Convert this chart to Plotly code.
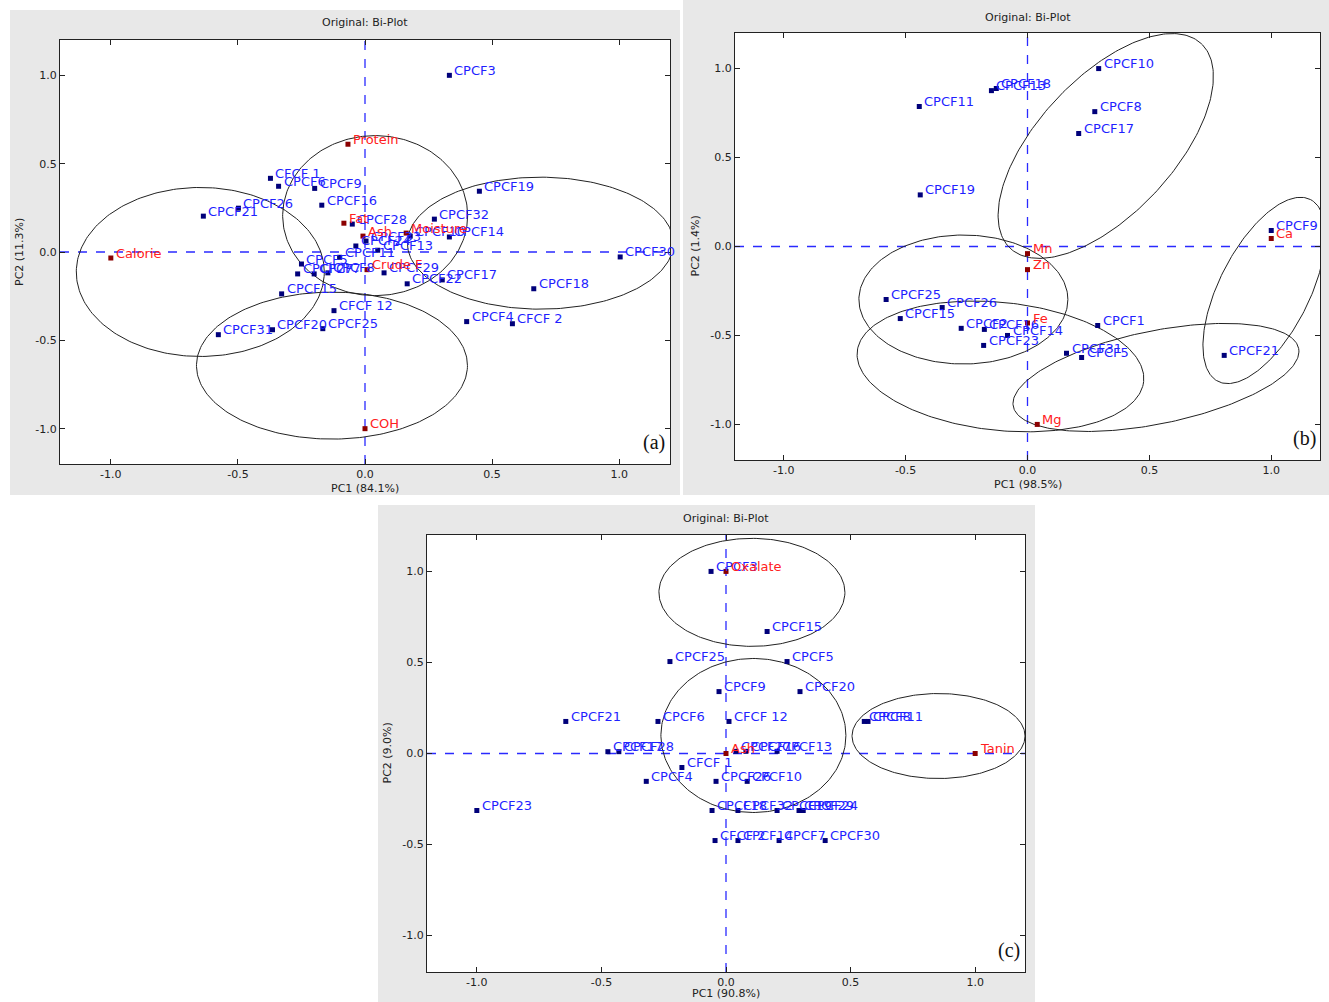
import numpy as np
import plotly.graph_objects as go

W, H = 1329, 1002

# ---------------- Panel (a) data ----------------
a_obs_names = ["CPCF3", "CFCF 1", "CPCF6", "CPCF9", "CPCF16", "CPCF26", "CPCF21", "CPCF28",
               "CPCF24", "CPCF33", "CPCF10", "CPCF14", "CPCF32", "CPCF19", "CPCF13", "CPCF11",
               "CPCF5", "CPCF27", "CPCF7", "CPCF8", "CPCF29", "CPCF22", "CPCF17", "CPCF18",
               "CPCF30", "CPCF4", "CFCF 2", "CPCF15", "CFCF 12", "CPCF31", "CPCF20", "CPCF25"]
a_obs_x = [0.332, -0.372, -0.34, -0.198, -0.17, -0.498, -0.636, -0.05,
           -0.036, 0.004, 0.178, 0.332, 0.273, 0.45, 0.05, -0.1,
           -0.25, -0.265, -0.2, -0.146, 0.075, 0.166, 0.304, 0.664,
           1.004, 0.4, 0.58, -0.328, -0.122, -0.577, -0.364, -0.166]
a_obs_y = [1.0, 0.417, 0.372, 0.36, 0.265, 0.248, 0.203, 0.158,
           0.034, 0.062, 0.09, 0.085, 0.186, 0.344, 0.01, -0.03,
           -0.068, -0.124, -0.124, -0.118, -0.118, -0.18, -0.158, -0.208,
           -0.028, -0.394, -0.406, -0.237, -0.332, -0.468, -0.44, -0.434]
a_var_names = ["Protein", "Fat", "Calorie", "Ash", "Moisture", "Crude F", "COH"]
a_var_x = [-0.067, -0.083, -1.0, -0.008, 0.162, 0.008, 0.0]
a_var_y = [0.61, 0.163, -0.034, 0.09, 0.107, -0.1, -1.0]
a_ellipses = [(-0.648, -0.113, 124, 84.5, 0), (0.04, 0.206, 92.5, 80, 0),
              (0.69, 0.05, 133, 66, 0), (-0.13, -0.643, 135.5, 73.5, 0)]

# ---------------- Panel (b) data ----------------
b_obs_names = ["CPCF10", "CPCF8", "CPCF17", "CPCF11", "CPCF19", "CPCF13", "CPCF18", "CPCF9",
               "CPCF1", "CPCF31", "CPCF5", "CPCF21", "CPCF25", "CPCF26", "CPCF15", "CPCF2",
               "CPCF16", "CPCF14", "CPCF23"]
b_obs_x = [0.292, 0.276, 0.21, -0.444, -0.44, -0.148, -0.128, 1.0,
           0.288, 0.16, 0.222, 0.807, -0.58, -0.35, -0.522, -0.272,
           -0.177, -0.082, -0.18]
b_obs_y = [1.0, 0.758, 0.635, 0.787, 0.29, 0.876, 0.888, 0.09,
           -0.444, -0.6, -0.624, -0.612, -0.298, -0.343, -0.405, -0.46,
           -0.466, -0.5, -0.556]
b_var_names = ["Ca", "Mn", "Zn", "Fe", "Mg"]
b_var_x = [1.0, 0.0, 0.0, 0.0, 0.04]
b_var_y = [0.045, -0.04, -0.13, -0.43, -1.0]
b_ellipses = [(0.321, 0.565, 140, 68, 47), (0.971, -0.247, 102, 45, 63),
              (-0.263, -0.298, 104.5, 64.5, 0), (-0.111, -0.674, 144, 64, -6),
              (0.527, -0.736, 145.6, 46.5, 11.5)]

# ---------------- Panel (c) data ----------------
c_obs_names = ["CPCF3", "CPCF15", "CPCF5", "CPCF25", "CPCF9", "CPCF20", "CPCF21", "CPCF6",
               "CFCF 12", "CPCF8", "CPCF11", "CPCF27", "CPCF16", "CPCF13", "CPCF17", "CPCF28",
               "CFCF 1", "CPCF4", "CPCF26", "CPCF10", "CPCF23", "CPCF18", "CPCF32", "CPCF19",
               "CPCF29", "CPCF24", "CFCF 2", "CPCF14", "CPCF7", "CPCF30"]
c_obs_x = [-0.06, 0.165, 0.245, -0.225, -0.028, 0.297, -0.643, -0.273,
           0.012, 0.555, 0.57, 0.04, 0.08, 0.205, -0.474, -0.43,
           -0.177, -0.32, -0.04, 0.085, -1.0, -0.056, 0.048, 0.205,
           0.293, 0.31, -0.044, 0.048, 0.213, 0.398]
c_obs_y = [1.0, 0.67, 0.505, 0.505, 0.34, 0.34, 0.176, 0.176,
           0.176, 0.176, 0.176, 0.012, 0.012, 0.012, 0.01, 0.01,
           -0.077, -0.153, -0.153, -0.153, -0.313, -0.313, -0.313, -0.313,
           -0.313, -0.313, -0.478, -0.478, -0.478, -0.478]
c_var_names = ["Oxalate", "Tanin", "Ash"]
c_var_x = [0.0, 1.0, 0.0]
c_var_y = [1.0, 0.0, 0.0]
c_ellipses = [(0.104, 0.885, 93, 54, 0), (0.11, 0.099, 92.5, 77, 0),
              (0.853, 0.096, 86.5, 42.5, 0)]

panels = [
    dict(tag="a", frame=(60, 670, 40, 464), bg=(10, 680, 10, 495), title_y=22,
         xt="PC1 (84.1%)", yt="PC2 (11.3%)",
         obs=(a_obs_names, a_obs_x, a_obs_y), var=(a_var_names, a_var_x, a_var_y), ell=a_ellipses),
    dict(tag="b", frame=(735, 1320, 33, 460), bg=(683, 1329, 0, 495), title_y=17,
         xt="PC1 (98.5%)", yt="PC2 (1.4%)",
         obs=(b_obs_names, b_obs_x, b_obs_y), var=(b_var_names, b_var_x, b_var_y), ell=b_ellipses),
    dict(tag="c", frame=(427, 1025, 535, 972), bg=(378, 1035, 505, 1002), title_y=518,
         xt="PC1 (90.8%)", yt="PC2 (9.0%)",
         obs=(c_obs_names, c_obs_x, c_obs_y), var=(c_var_names, c_var_x, c_var_y), ell=c_ellipses),
]

FONT = "DejaVu Sans"
BLUE_TXT = "#1f1fff"
RED_TXT = "#ff2020"
NAVY = "#00007a"
DARKRED = "#8b0000"

fig = go.Figure()
shapes = []
annotations = []
layout = {}

tickvals = [-1.0, -0.5, 0.0, 0.5, 1.0]
ticktext = ["-1.0", "-0.5", "0.0", "0.5", "1.0"]


def paper_text(xp, yp, text, size=11, family=FONT, color="#222", angle=0, yanchor="middle"):
    return dict(x=xp / W, y=1 - yp / H, xref="paper", yref="paper", text=text,
                showarrow=False, xanchor="center", yanchor=yanchor, textangle=angle,
                font=dict(family=family, size=size, color=color))


for i, p in enumerate(panels):
    n = "" if i == 0 else str(i + 1)
    xa, ya = "x" + n, "y" + n
    x0, x1, y0, y1 = p["frame"]
    sx = (x1 - x0) / 2.4
    sy = (y1 - y0) / 2.4
    axcommon = dict(range=[-1.2, 1.2], tickvals=tickvals, ticktext=ticktext,
                    ticks="inside", ticklen=5, tickcolor="#222", tickwidth=1,
                    showline=True, linecolor="#222", linewidth=1.3, mirror="ticks",
                    showgrid=False, zeroline=False,
                    tickfont=dict(family=FONT, size=11, color="#222"))
    layout["xaxis" + n] = dict(axcommon, domain=[x0 / W, x1 / W], anchor=ya)
    layout["yaxis" + n] = dict(axcommon, domain=[1 - y1 / H, 1 - y0 / H], anchor=xa)

    bx0, bx1, by0, by1 = p["bg"]
    shapes.append(dict(type="rect", xref="paper", yref="paper", x0=bx0 / W, x1=bx1 / W,
                       y0=1 - by1 / H, y1=1 - by0 / H, fillcolor="#e8e8e8",
                       line=dict(width=0), layer="below"))
    shapes.append(dict(type="rect", xref=xa + " domain", yref=ya + " domain", x0=0, x1=1,
                       y0=0, y1=1, fillcolor="white", line=dict(width=0), layer="below"))
    shapes.append(dict(type="line", xref=xa, yref=ya + " domain", x0=0, x1=0, y0=0, y1=1,
                       line=dict(color="#2a2aff", width=1.3, dash="dash"), layer="below"))
    shapes.append(dict(type="line", xref=xa + " domain", yref=ya, x0=0, x1=1, y0=0, y1=0,
                       line=dict(color="#2a2aff", width=1.3, dash="dash"), layer="below"))

    # ellipses
    t = np.linspace(0, 2 * np.pi, 240)
    for (cx, cy, ea, eb, ang) in p["ell"]:
        th = np.deg2rad(ang)
        u = ea * np.cos(t)
        v = eb * np.sin(t)
        U = u * np.cos(th) - v * np.sin(th)
        V = u * np.sin(th) + v * np.cos(th)
        fig.add_trace(go.Scatter(x=cx + U / sx, y=cy + V / sy, mode="lines",
                                 line=dict(color="#222", width=1), xaxis=xa, yaxis=ya,
                                 showlegend=False, hoverinfo="skip"))

    on, ox, oy = p["obs"]
    vn, vx, vy = p["var"]
    fig.add_trace(go.Scatter(x=ox, y=oy, mode="markers", xaxis=xa, yaxis=ya,
                             marker=dict(symbol="square", size=5, color=NAVY),
                             showlegend=False, text=on))
    fig.add_trace(go.Scatter(x=vx, y=vy, mode="markers", xaxis=xa, yaxis=ya,
                             marker=dict(symbol="square", size=5, color=DARKRED),
                             showlegend=False, text=vn))
    for nm, xx, yy in zip(on, ox, oy):
        annotations.append(dict(x=xx, y=yy, xref=xa, yref=ya, text=nm, showarrow=False,
                                xanchor="left", yanchor="middle", xshift=3, yshift=5,
                                font=dict(family=FONT, size=13, color=BLUE_TXT)))
    for nm, xx, yy in zip(vn, vx, vy):
        annotations.append(dict(x=xx, y=yy, xref=xa, yref=ya, text=nm, showarrow=False,
                                xanchor="left", yanchor="middle", xshift=3, yshift=5,
                                font=dict(family=FONT, size=13, color=RED_TXT)))

    # titles and axis titles
    cxp = (x0 + x1) / 2
    cyp = (y0 + y1) / 2
    annotations.append(paper_text(cxp, p["title_y"], "Original: Bi-Plot"))
    ty = y1 + 24
    if ty + 8 > H:
        annotations.append(paper_text(cxp, H, p["xt"], yanchor="bottom"))
    else:
        annotations.append(paper_text(cxp, ty, p["xt"]))
    annotations.append(paper_text(x0 - 40, cyp, p["yt"], angle=-90))
    annotations.append(paper_text(x1 - 16, y1 - 22, "(" + p["tag"] + ")", size=20,
                                  family="Liberation Serif", color="#111"))

fig.update_layout(width=W, height=H, margin=dict(l=0, r=0, t=0, b=0),
                  paper_bgcolor="white", plot_bgcolor="rgba(0,0,0,0)",
                  shapes=shapes, annotations=annotations, showlegend=False, **layout)

fig.write_html("out.html", config={"displayModeBar": False},
               post_script="document.body.style.margin='0';document.body.style.overflow='hidden';")
